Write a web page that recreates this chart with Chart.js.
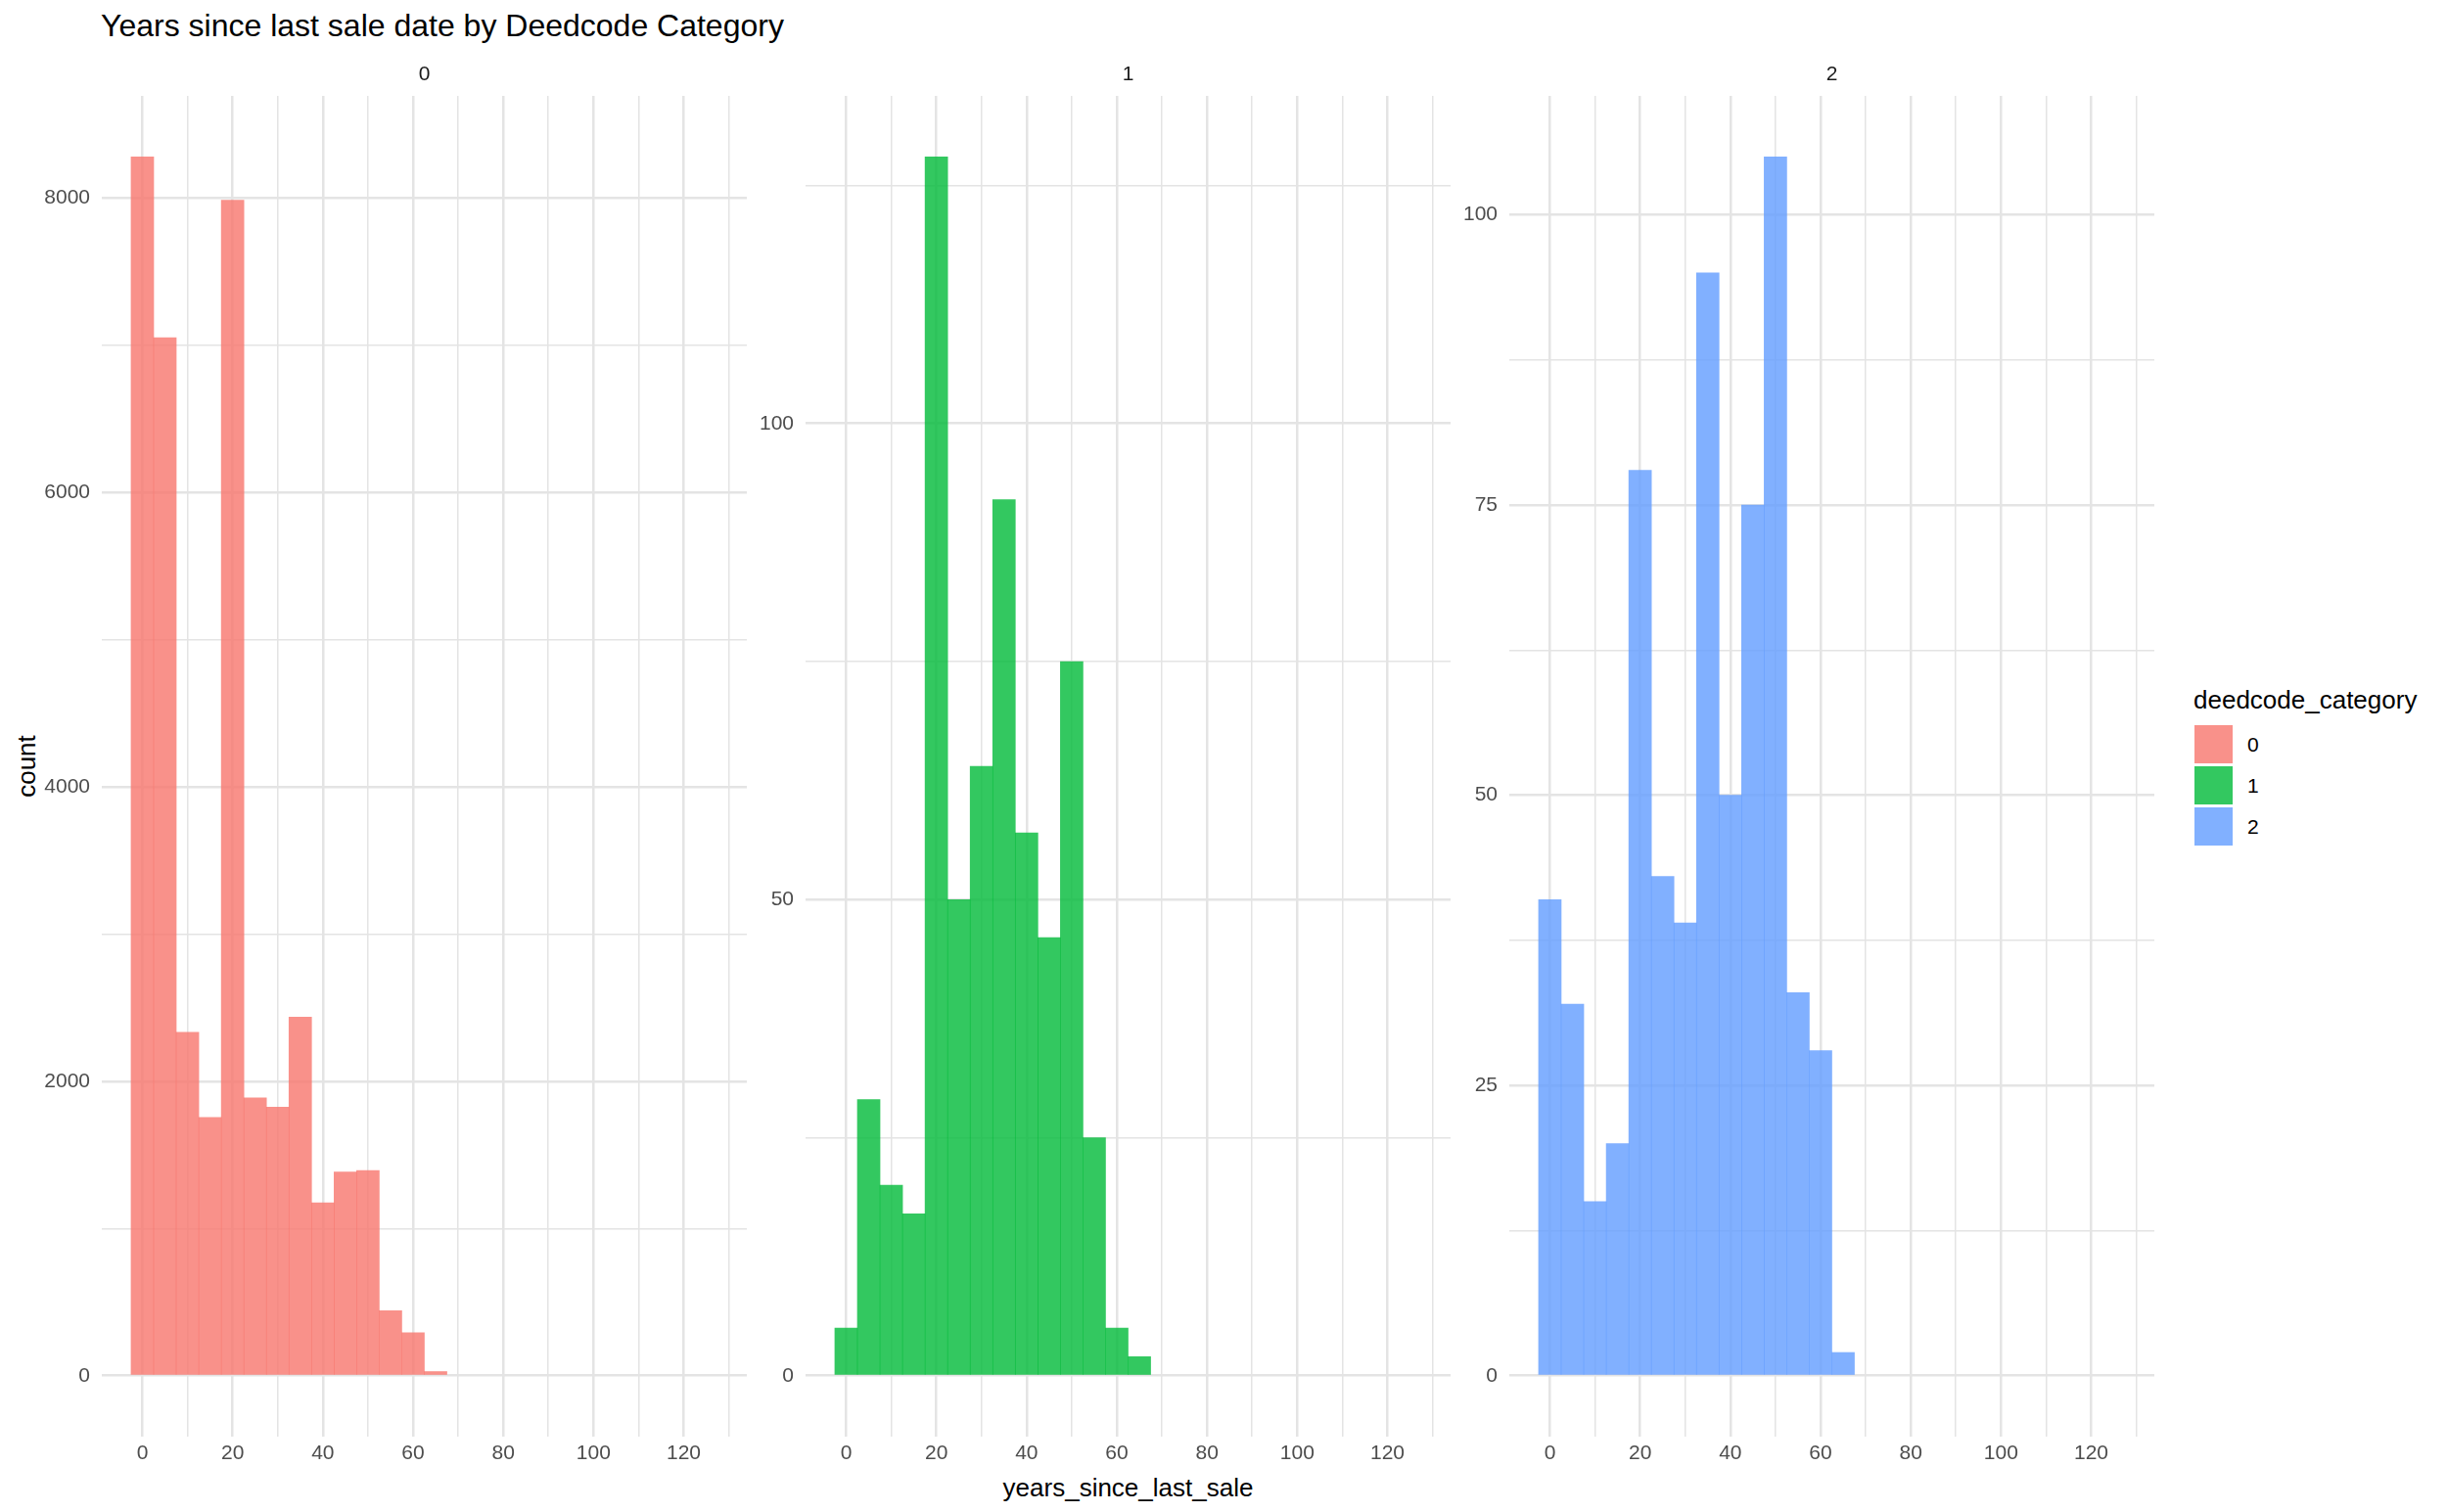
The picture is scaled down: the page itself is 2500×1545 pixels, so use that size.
<!DOCTYPE html>
<html>
<head>
<meta charset="utf-8">
<title>Years since last sale date by Deedcode Category</title>
<script src="https://cdn.jsdelivr.net/npm/chart.js@4.4.1/dist/chart.umd.min.js"></script>
<style>
  body { margin: 0; background: #fff; font-family: "Liberation Sans", Arial, sans-serif; }
  #plot { position: relative; width: 2500px; height: 1545px; overflow: hidden; background: #fff; }
  .abs { position: absolute; white-space: nowrap; }
  canvas { position: absolute; }
  #title { left: 103px; top: 8px; font-size: 32px; line-height: 36px; color: #000; }
  .strip { top: 62px; width: 659px; text-align: center; font-size: 21px; line-height: 25px; color: #1a1a1a; }
  #xTitle { left: 823px; top: 1505px; width: 659px; text-align: center; font-size: 26px; line-height: 30px; color: #000; }
  #yTitle { left: -73px; top: 768px; width: 200px; text-align: center; font-size: 26px; line-height: 30px; color: #000; transform: rotate(-90deg); }
  #legTitle { left: 2241px; top: 700px; font-size: 26px; line-height: 30px; color: #000; }
  .key { left: 2242px; width: 39px; height: 39px; }
  .keyLabel { left: 2296px; font-size: 21px; line-height: 25px; color: #000; }
</style>
</head>
<body>
<div id="plot">
  <div class="abs" id="title">Years since last sale date by Deedcode Category</div>
  <div class="abs" id="xTitle">years_since_last_sale</div>
  <div class="abs" id="yTitle">count</div>
  <div class="abs" id="legTitle">deedcode_category</div>
</div>
<script>
// bin centres (width 5) and counts per deedcode category
const binCenters = [0, 5, 10, 15, 20, 25, 30, 35, 40, 45, 50, 55, 60, 65]
const counts0 = [8279, 7050, 2333, 1755, 7984, 1887, 1824, 2435, 1174, 1383, 1394, 441, 292, 28]
const counts1 = [5, 29, 20, 17, 128, 50, 64, 92, 57, 46, 75, 25, 5, 2]
const counts2 = [41, 32, 15, 20, 78, 43, 39, 95, 50, 75, 105, 33, 28, 2]
const categories = ["0", "1", "2"]
const fillColors = ["rgba(248,118,109,0.8)", "rgba(0,186,56,0.8)", "rgba(97,156,255,0.8)"]

const xMajorTicks = [0, 20, 40, 60, 80, 100, 120]
const xMinorTicks = [10, 30, 50, 70, 90, 110, 130]
const xMin = -9
const xMax = 134
const yMajorTicks = [[0, 2000, 4000, 6000, 8000], [0, 50, 100], [0, 25, 50, 75, 100]]
const yMinorTicks = [[1000, 3000, 5000, 7000], [25, 75, 125], [12.5, 37.5, 62.5, 87.5]]

const allCounts = [counts0, counts1, counts2]

// panel geometry
const panelLeft = [104, 823, 1542]
const panelW = 659
const panelTop = 98
const panelBottom = 1468
const yAxisW = 60
const xAxisH = 40
const topPad = 30
const gridColor = "#e4e4e4"

Chart.defaults.font.family = '"Liberation Sans", Arial, sans-serif'

const plot = document.getElementById("plot")

function makePanel(i) {
    const counts = allCounts[i]
    const canvas = document.createElement("canvas")
    canvas.width = panelW + yAxisW
    canvas.height = panelBottom - panelTop + topPad + xAxisH
    canvas.style.left = (panelLeft[i] - yAxisW) + "px"
    canvas.style.top = (panelTop - topPad) + "px"
    plot.appendChild(canvas)

    const strip = document.createElement("div")
    strip.className = "abs strip"
    strip.style.left = panelLeft[i] + "px"
    strip.textContent = categories[i]
    plot.appendChild(strip)

    const peak = Math.max(...counts)
    const yMaj = yMajorTicks[i]
    const yMin = yMinorTicks[i]

    new Chart(canvas, {
        type: "bar",
        data: {
            datasets: [{
                label: categories[i],
                data: binCenters.map((x, k) => ({ x: x, y: counts[k] })),
                backgroundColor: fillColors[i],
                borderWidth: 0,
                barPercentage: 1,
                categoryPercentage: 1
            }]
        },
        options: {
            responsive: false,
            animation: false,
            devicePixelRatio: 1,
            layout: { padding: { top: topPad, left: 0, right: 0, bottom: 0 } },
            plugins: {
                legend: { display: false },
                tooltip: { enabled: false },
                title: { display: false }
            },
            scales: {
                x: {
                    type: "linear",
                    min: xMin,
                    max: xMax,
                    bounds: "data",
                    offset: false,
                    afterBuildTicks: ax => {
                        ax.ticks = [...xMajorTicks, ...xMinorTicks].sort((a, b) => a - b).map(v => ({ value: v }))
                    },
                    afterFit: ax => { ax.height = xAxisH },
                    ticks: {
                        autoSkip: false,
                        maxRotation: 0,
                        padding: 5,
                        color: "#4d4d4d",
                        font: { size: 21 },
                        callback: v => xMajorTicks.includes(v) ? String(v) : ""
                    },
                    grid: {
                        offset: false,
                        drawTicks: false,
                        color: gridColor,
                        lineWidth: c => (c.tick && xMajorTicks.includes(c.tick.value)) ? 2.5 : 1.5
                    },
                    border: { display: false }
                },
                y: {
                    min: -0.05 * peak,
                    max: 1.05 * peak,
                    bounds: "data",
                    afterBuildTicks: ax => {
                        ax.ticks = [...yMaj, ...yMin].sort((a, b) => a - b).map(v => ({ value: v }))
                    },
                    afterFit: ax => { ax.width = yAxisW },
                    ticks: {
                        padding: 12,
                        color: "#4d4d4d",
                        font: { size: 21 },
                        callback: v => yMaj.includes(v) ? String(v) : ""
                    },
                    grid: {
                        drawTicks: false,
                        color: gridColor,
                        lineWidth: c => (c.tick && yMaj.includes(c.tick.value)) ? 2.5 : 1.5
                    },
                    border: { display: false }
                }
            }
        }
    })
}

categories.forEach((c, i) => makePanel(i))

// legend keys
const keyTops = [741, 783, 825]
categories.forEach((c, i) => {
    const key = document.createElement("div")
    key.className = "abs key"
    key.style.top = keyTops[i] + "px"
    key.style.background = fillColors[i]
    plot.appendChild(key)

    const lab = document.createElement("div")
    lab.className = "abs keyLabel"
    lab.style.top = (keyTops[i] + 7) + "px"
    lab.textContent = c
    plot.appendChild(lab)
})
</script>
</body>
</html>
